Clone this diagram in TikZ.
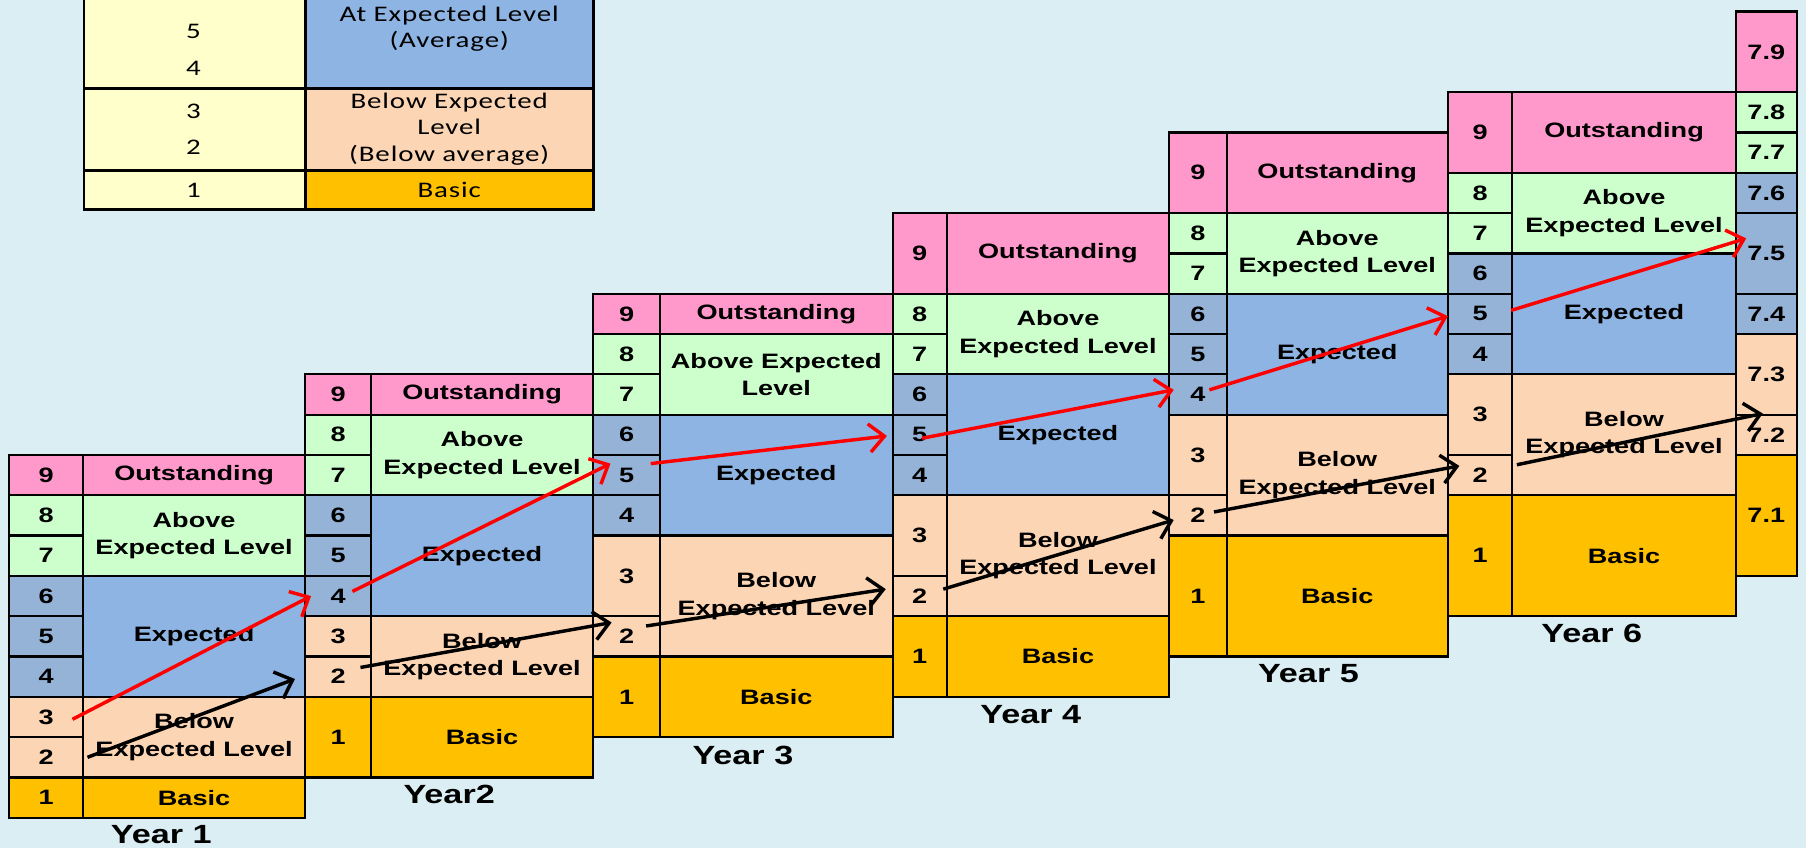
\documentclass[tikz,border=0pt]{standalone}
\usepackage{fontspec}
\setmainfont{Liberation Sans}[FakeStretch=1.3]
\newfontfamily\legfont{Carlito}[FakeStretch=1.3,LetterSpace=4]
\usepackage{tikz}
\usetikzlibrary{arrows.meta}
\usetikzlibrary{fit,calc}

\definecolor{bgblue}{HTML}{DAEEF3}
\definecolor{outpink}{HTML}{FF99CC}
\definecolor{abvgreen}{HTML}{CCFFCC}
\definecolor{expblue}{HTML}{8DB4E2}
\definecolor{numblue}{HTML}{95B3D7}
\definecolor{blwpeach}{HTML}{FCD5B4}
\definecolor{basorange}{HTML}{FFC000}
\definecolor{legyellow}{HTML}{FFFFCC}

\tikzset{
    lvlcell/.style={draw=black, line width=1.1pt, inner sep=0pt},
    lvltxt/.style={align=center, inner sep=0pt, font=\bfseries\fontsize{10.3}{13.6}\selectfont},
    celltext/.style={label={[lvltxt]center:#1}},
    yearlbl/.style={font=\bfseries\fontsize{13}{15}\selectfont},
    legcell/.style={draw=black, line width=1.4pt, inner sep=0pt},
    legtxt/.style={align=center, font=\legfont\fontsize{11}{13}\selectfont},
    uparrow/.style={red, line width=1.7pt, -{Straight Barb[length=7.5pt,width=14pt]}},
    lowarrow/.style={black, line width=1.7pt, -{Straight Barb[length=7.5pt,width=14pt]}}
}

\begin{document}
\begin{tikzpicture}[x=0.02cm, y=-0.02cm]
    \useasboundingbox (0,0) rectangle (1568,736);
    \clip (0,0) rectangle (1568,736);
    \fill [bgblue] (0,0) rectangle (1568,736);           % background

    % key table
    \node [legcell, fill=legyellow, fit={(73,-30) (265,77)}] (leg-45) {};
    \node [legcell, fill=expblue, fit={(265,-30) (515,77)}] (leg-exp) {};
    \node [legcell, fill=legyellow, fit={(73,77) (265,148)}] (leg-23) {};
    \node [legcell, fill=blwpeach, fit={(265,77) (515,148)}] (leg-blw) {};
    \node [legcell, fill=legyellow, fit={(73,148) (265,182)}] (leg-1) {};
    \node [legcell, fill=basorange, fit={(265,148) (515,182)}] (leg-bas) {};
    \node [legtxt] (leg-five) at (168,27) {5};
    \node [legtxt] (leg-four) at (168,59) {4};
    \node [legtxt] (leg-three) at (168,97) {3};
    \node [legtxt] (leg-two) at (168,128) {2};
    \node [legtxt] (leg-one) at (168,165) {1};
    \node [legtxt] (leg-avg) at (390,25) {At Expected Level\\(Average)};
    \node [legtxt] (leg-bavg) at (390,112) {Below Expected\\Level\\(Below average)};
    \node [legtxt] (leg-basic) at (390,165) {Basic};

    % Year 1
    \node [lvlcell, fill=outpink, fit={(8,395) (72,430)}, celltext=9] (y1-9) {};
    \node [lvlcell, fill=abvgreen, fit={(8,430) (72,465)}, celltext=8] (y1-8) {};
    \node [lvlcell, fill=abvgreen, fit={(8,465) (72,500)}, celltext=7] (y1-7) {};
    \node [lvlcell, fill=numblue, fit={(8,500) (72,535)}, celltext=6] (y1-6) {};
    \node [lvlcell, fill=numblue, fit={(8,535) (72,570)}, celltext=5] (y1-5) {};
    \node [lvlcell, fill=numblue, fit={(8,570) (72,605)}, celltext=4] (y1-4) {};
    \node [lvlcell, fill=blwpeach, fit={(8,605) (72,640)}, celltext=3] (y1-3) {};
    \node [lvlcell, fill=blwpeach, fit={(8,640) (72,675)}, celltext=2] (y1-2) {};
    \node [lvlcell, fill=basorange, fit={(8,675) (72,710)}, celltext=1] (y1-1) {};
    \node [lvlcell, fill=outpink, fit={(72,395) (265,430)}, celltext=Outstanding] (y1-out) {};
    \node [lvlcell, fill=abvgreen, fit={(72,430) (265,500)}, celltext=Above\\Expected Level] (y1-abv) {};
    \node [lvlcell, fill=expblue, fit={(72,500) (265,605)}, celltext=Expected] (y1-exp) {};
    \node [lvlcell, fill=blwpeach, fit={(72,605) (265,675)}, celltext=Below\\Expected Level] (y1-blw) {};
    \node [lvlcell, fill=basorange, fit={(72,675) (265,710)}, celltext=Basic] (y1-bas) {};
    \node [yearlbl] (y1-name) at (140,725) {Year 1};

    % Year 2
    \node [lvlcell, fill=outpink, fit={(265,325) (322,360)}, celltext=9] (y2-9) {};
    \node [lvlcell, fill=abvgreen, fit={(265,360) (322,395)}, celltext=8] (y2-8) {};
    \node [lvlcell, fill=abvgreen, fit={(265,395) (322,430)}, celltext=7] (y2-7) {};
    \node [lvlcell, fill=numblue, fit={(265,430) (322,465)}, celltext=6] (y2-6) {};
    \node [lvlcell, fill=numblue, fit={(265,465) (322,500)}, celltext=5] (y2-5) {};
    \node [lvlcell, fill=numblue, fit={(265,500) (322,535)}, celltext=4] (y2-4) {};
    \node [lvlcell, fill=blwpeach, fit={(265,535) (322,570)}, celltext=3] (y2-3) {};
    \node [lvlcell, fill=blwpeach, fit={(265,570) (322,605)}, celltext=2] (y2-2) {};
    \node [lvlcell, fill=basorange, fit={(265,605) (322,675)}, celltext=1] (y2-1) {};
    \node [lvlcell, fill=outpink, fit={(322,325) (515,360)}, celltext=Outstanding] (y2-out) {};
    \node [lvlcell, fill=abvgreen, fit={(322,360) (515,430)}, celltext=Above\\Expected Level] (y2-abv) {};
    \node [lvlcell, fill=expblue, fit={(322,430) (515,535)}, celltext=Expected] (y2-exp) {};
    \node [lvlcell, fill=blwpeach, fit={(322,535) (515,605)}, celltext=Below\\Expected Level] (y2-blw) {};
    \node [lvlcell, fill=basorange, fit={(322,605) (515,675)}, celltext=Basic] (y2-bas) {};
    \node [yearlbl] (y2-name) at (390,690) {Year2};

    % Year 3
    \node [lvlcell, fill=outpink, fit={(515,255) (573,290)}, celltext=9] (y3-9) {};
    \node [lvlcell, fill=abvgreen, fit={(515,290) (573,325)}, celltext=8] (y3-8) {};
    \node [lvlcell, fill=abvgreen, fit={(515,325) (573,360)}, celltext=7] (y3-7) {};
    \node [lvlcell, fill=numblue, fit={(515,360) (573,395)}, celltext=6] (y3-6) {};
    \node [lvlcell, fill=numblue, fit={(515,395) (573,430)}, celltext=5] (y3-5) {};
    \node [lvlcell, fill=numblue, fit={(515,430) (573,465)}, celltext=4] (y3-4) {};
    \node [lvlcell, fill=blwpeach, fit={(515,465) (573,535)}, celltext=3] (y3-3) {};
    \node [lvlcell, fill=blwpeach, fit={(515,535) (573,570)}, celltext=2] (y3-2) {};
    \node [lvlcell, fill=basorange, fit={(515,570) (573,640)}, celltext=1] (y3-1) {};
    \node [lvlcell, fill=outpink, fit={(573,255) (775,290)}, celltext=Outstanding] (y3-out) {};
    \node [lvlcell, fill=abvgreen, fit={(573,290) (775,360)}, celltext=Above Expected\\Level] (y3-abv) {};
    \node [lvlcell, fill=expblue, fit={(573,360) (775,465)}, celltext=Expected] (y3-exp) {};
    \node [lvlcell, fill=blwpeach, fit={(573,465) (775,570)}, celltext=Below\\Expected Level] (y3-blw) {};
    \node [lvlcell, fill=basorange, fit={(573,570) (775,640)}, celltext=Basic] (y3-bas) {};
    \node [yearlbl] (y3-name) at (645,656) {Year 3};

    % Year 4
    \node [lvlcell, fill=outpink, fit={(775,185) (822,255)}, celltext=9] (y4-9) {};
    \node [lvlcell, fill=abvgreen, fit={(775,255) (822,290)}, celltext=8] (y4-8) {};
    \node [lvlcell, fill=abvgreen, fit={(775,290) (822,325)}, celltext=7] (y4-7) {};
    \node [lvlcell, fill=numblue, fit={(775,325) (822,360)}, celltext=6] (y4-6) {};
    \node [lvlcell, fill=numblue, fit={(775,360) (822,395)}, celltext=5] (y4-5) {};
    \node [lvlcell, fill=numblue, fit={(775,395) (822,430)}, celltext=4] (y4-4) {};
    \node [lvlcell, fill=blwpeach, fit={(775,430) (822,500)}, celltext=3] (y4-3) {};
    \node [lvlcell, fill=blwpeach, fit={(775,500) (822,535)}, celltext=2] (y4-2) {};
    \node [lvlcell, fill=basorange, fit={(775,535) (822,605)}, celltext=1] (y4-1) {};
    \node [lvlcell, fill=outpink, fit={(822,185) (1015,255)}, celltext=Outstanding] (y4-out) {};
    \node [lvlcell, fill=abvgreen, fit={(822,255) (1015,325)}, celltext=Above\\Expected Level] (y4-abv) {};
    \node [lvlcell, fill=expblue, fit={(822,325) (1015,430)}, celltext=Expected] (y4-exp) {};
    \node [lvlcell, fill=blwpeach, fit={(822,430) (1015,535)}, celltext=Below\\Expected Level] (y4-blw) {};
    \node [lvlcell, fill=basorange, fit={(822,535) (1015,605)}, celltext=Basic] (y4-bas) {};
    \node [yearlbl] (y4-name) at (895,620) {Year 4};

    % Year 5
    \node [lvlcell, fill=outpink, fit={(1015,115) (1065,185)}, celltext=9] (y5-9) {};
    \node [lvlcell, fill=abvgreen, fit={(1015,185) (1065,220)}, celltext=8] (y5-8) {};
    \node [lvlcell, fill=abvgreen, fit={(1015,220) (1065,255)}, celltext=7] (y5-7) {};
    \node [lvlcell, fill=numblue, fit={(1015,255) (1065,290)}, celltext=6] (y5-6) {};
    \node [lvlcell, fill=numblue, fit={(1015,290) (1065,325)}, celltext=5] (y5-5) {};
    \node [lvlcell, fill=numblue, fit={(1015,325) (1065,360)}, celltext=4] (y5-4) {};
    \node [lvlcell, fill=blwpeach, fit={(1015,360) (1065,430)}, celltext=3] (y5-3) {};
    \node [lvlcell, fill=blwpeach, fit={(1015,430) (1065,465)}, celltext=2] (y5-2) {};
    \node [lvlcell, fill=basorange, fit={(1015,465) (1065,570)}, celltext=1] (y5-1) {};
    \node [lvlcell, fill=outpink, fit={(1065,115) (1257,185)}, celltext=Outstanding] (y5-out) {};
    \node [lvlcell, fill=abvgreen, fit={(1065,185) (1257,255)}, celltext=Above\\Expected Level] (y5-abv) {};
    \node [lvlcell, fill=expblue, fit={(1065,255) (1257,360)}, celltext=Expected] (y5-exp) {};
    \node [lvlcell, fill=blwpeach, fit={(1065,360) (1257,465)}, celltext=Below\\Expected Level] (y5-blw) {};
    \node [lvlcell, fill=basorange, fit={(1065,465) (1257,570)}, celltext=Basic] (y5-bas) {};
    \node [yearlbl] (y5-name) at (1136,585) {Year 5};

    % Year 6
    \node [lvlcell, fill=outpink, fit={(1257,80) (1313,150)}, celltext=9] (y6-9) {};
    \node [lvlcell, fill=abvgreen, fit={(1257,150) (1313,185)}, celltext=8] (y6-8) {};
    \node [lvlcell, fill=abvgreen, fit={(1257,185) (1313,220)}, celltext=7] (y6-7) {};
    \node [lvlcell, fill=numblue, fit={(1257,220) (1313,255)}, celltext=6] (y6-6) {};
    \node [lvlcell, fill=numblue, fit={(1257,255) (1313,290)}, celltext=5] (y6-5) {};
    \node [lvlcell, fill=numblue, fit={(1257,290) (1313,325)}, celltext=4] (y6-4) {};
    \node [lvlcell, fill=blwpeach, fit={(1257,325) (1313,395)}, celltext=3] (y6-3) {};
    \node [lvlcell, fill=blwpeach, fit={(1257,395) (1313,430)}, celltext=2] (y6-2) {};
    \node [lvlcell, fill=basorange, fit={(1257,430) (1313,535)}, celltext=1] (y6-1) {};
    \node [lvlcell, fill=outpink, fit={(1313,80) (1507,150)}, celltext=Outstanding] (y6-out) {};
    \node [lvlcell, fill=abvgreen, fit={(1313,150) (1507,220)}, celltext=Above\\Expected Level] (y6-abv) {};
    \node [lvlcell, fill=expblue, fit={(1313,220) (1507,325)}, celltext=Expected] (y6-exp) {};
    \node [lvlcell, fill=blwpeach, fit={(1313,325) (1507,430)}, celltext=Below\\Expected Level] (y6-blw) {};
    \node [lvlcell, fill=basorange, fit={(1313,430) (1507,535)}, celltext=Basic] (y6-bas) {};
    \node [yearlbl] (y6-name) at (1382,550) {Year 6};

    % Year 7 (numbers only)
    \node [lvlcell, fill=outpink, fit={(1507,10) (1560,80)}, celltext=7.9] (y7-9) {};
    \node [lvlcell, fill=abvgreen, fit={(1507,80) (1560,115)}, celltext=7.8] (y7-8) {};
    \node [lvlcell, fill=abvgreen, fit={(1507,115) (1560,150)}, celltext=7.7] (y7-7) {};
    \node [lvlcell, fill=numblue, fit={(1507,150) (1560,185)}, celltext=7.6] (y7-6) {};
    \node [lvlcell, fill=numblue, fit={(1507,185) (1560,255)}, celltext=7.5] (y7-5) {};
    \node [lvlcell, fill=numblue, fit={(1507,255) (1560,290)}, celltext=7.4] (y7-4) {};
    \node [lvlcell, fill=blwpeach, fit={(1507,290) (1560,360)}, celltext=7.3] (y7-3) {};
    \node [lvlcell, fill=blwpeach, fit={(1507,360) (1560,395)}, celltext=7.2] (y7-2) {};
    \node [lvlcell, fill=basorange, fit={(1507,395) (1560,500)}, celltext=7.1] (y7-1) {};

    % upper progress line
    \draw [uparrow] ($(y1-3.east)+(-10,2)$) -- ($(y2-4.west)+(6,0)$);
    \draw [uparrow] ($(y2-4.east)+(-17,-4)$) -- ($(y3-5.west)+(16,-10)$);
    \draw [uparrow] ($(y3-5.east)+(-9,-10)$) -- ($(y4-5.west)+(-4,1)$);
    \draw [uparrow] ($(y4-5.center)+(2,3)$) -- ($(y5-4.west)+(5,-4)$);
    \draw [uparrow] ($(y5-4.center)+(10,-4)$) -- ($(y6-5.west)+(1,2)$);
    \draw [uparrow] ($(y6-5.east)+(-2,-3)$) -- ($(y7-5.west)+(10,-13)$);

    % lower progress line
    \draw [lowarrow] ($(y1-2.east)+(3,0)$) -- ($(y2-2.west)+(-8,2)$);
    \draw [lowarrow] ($(y2-2.east)+(-10,-8)$) -- ($(y3-2.west)+(17,-12)$);
    \draw [lowarrow] ($(y3-2.east)+(-13,-9)$) -- ($(y4-2.west)+(-5,-6)$);
    \draw [lowarrow] ($(y4-2.east)+(-4,-6)$) -- ($(y5-2.west)+(5,4)$);
    \draw [lowarrow] ($(y5-2.center)+(14,-3)$) -- ($(y6-2.west)+(11,-8)$);
    \draw [lowarrow] ($(y6-2.east)+(3,-9)$) -- ($(y7-2.north)+(-3,0)$);
\end{tikzpicture}
\end{document}
